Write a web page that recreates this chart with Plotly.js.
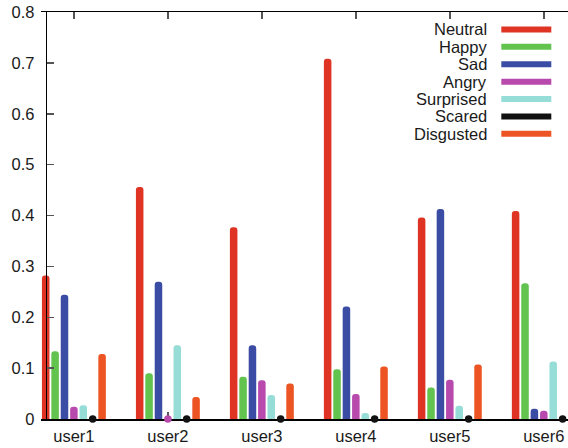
<!DOCTYPE html>
<html>
<head>
<meta charset="utf-8">
<script src="https://cdn.plot.ly/plotly-3.0.1.min.js"></script>
<style>
html, body { margin: 0; padding: 0; overflow: hidden; background: #fff; }
#chart { width: 580px; height: 448px; }
</style>
</head>
<body>
<div id="chart"></div>
<script>
// ---- data ----
const users = ['user1', 'user2', 'user3', 'user4', 'user5', 'user6'];
const emotions = ['Neutral', 'Happy', 'Sad', 'Angry', 'Surprised', 'Scared', 'Disgusted'];
const colors = ['#df3324', '#62c44f', '#3a4ca3', '#b84aad', '#96ddd8', '#111111', '#ec5424'];

const neutral   = [0.282, 0.456, 0.377, 0.708, 0.396, 0.409];
const happy     = [0.133, 0.090, 0.083, 0.098, 0.062, 0.267];
const sad       = [0.244, 0.270, 0.145, 0.221, 0.413, 0.020];
const angry     = [0.024, 0.000, 0.076, 0.049, 0.077, 0.016];
const surprised = [0.027, 0.145, 0.047, 0.012, 0.026, 0.113];
const scared    = [0.000, 0.000, 0.000, 0.000, 0.000, 0.000];
const disgusted = [0.128, 0.043, 0.070, 0.103, 0.107, null];

const series = [neutral, happy, sad, angry, surprised, scared, disgusted];

// ---- layout constants ----
const W = 580, H = 448;
const mL = 40.6, mT = 12, mB = 28.7;
const xRange = [-0.35, 5.3];
const plotW = 531.1;
const mR = W - mL - plotW;
const plotH = H - mT - mB;
const bargap = 0.3;
const fontFam = '"Liberation Sans", Arial, Helvetica, sans-serif';
const xIdx = users.map((u, i) => i);

const traces = [];
const n = series.length;
const slot = (1 - bargap) / n;
series.forEach((vals, k) => {
  traces.push({
    type: 'bar',
    name: emotions[k],
    x: xIdx,
    y: vals,
    marker: { color: colors[k], line: { width: 0 } },
    showlegend: false,
    hoverinfo: 'x+y+name'
  });
});
// zero values are drawn as dots on the baseline
series.forEach((vals, k) => {
  const off = (k - (n - 1) / 2) * slot;
  const xs = [], ys = [];
  vals.forEach((v, i) => { if (v === 0) { xs.push(i + off); ys.push(v); } });
  if (xs.length) {
    traces.push({
      type: 'scatter',
      mode: 'markers',
      x: xs,
      y: ys,
      marker: { color: colors[k], size: 7.5, line: { width: 0 } },
      cliponaxis: false,
      showlegend: false,
      hoverinfo: 'skip'
    });
  }
});

// hand-drawn legend (text on the left, line sample on the right)
const legTextRight = 489, legLineX0 = 501, legLineX1 = 551, legY0 = 29.5, legStep = 17.4;
const px2x = p => (p - mL) / plotW;
const py2y = p => (H - mB - p) / plotH;
const annotations = [], shapes = [];
emotions.forEach((name, k) => {
  const yy = py2y(legY0 + k * legStep);
  annotations.push({
    xref: 'paper', yref: 'paper', x: px2x(legTextRight), y: yy,
    xanchor: 'right', yanchor: 'middle', text: name, showarrow: false,
    font: { family: fontFam, size: 16.5, color: '#1a1a1a' }
  });
  shapes.push({
    type: 'line', xref: 'paper', yref: 'paper',
    x0: px2x(legLineX0), x1: px2x(legLineX1), y0: yy, y1: yy,
    line: { color: colors[k], width: 6 }
  });
});

const axisCommon = {
  showgrid: false, zeroline: false, showline: true,
  linecolor: '#000', linewidth: 1.5,
  ticks: 'inside', ticklen: 7, tickwidth: 1.5, tickcolor: '#555',
  mirror: 'ticks',
  tickfont: { family: fontFam, size: 16.5, color: '#1a1a1a' }
};

const layout = {
  width: W, height: H,
  margin: { l: mL, r: mR, t: mT, b: mB, pad: 0 },
  paper_bgcolor: '#fff', plot_bgcolor: '#fff',
  barmode: 'group', bargap: bargap, bargroupgap: 0.2,
  barcornerradius: '50%',
  showlegend: false,
  xaxis: Object.assign({}, axisCommon, {
    range: xRange, tickmode: 'array', tickvals: xIdx, ticktext: users,
    ticklabelstandoff: 2, layer: 'below traces'
  }),
  yaxis: Object.assign({}, axisCommon, {
    range: [0, 0.8], dtick: 0.1, tick0: 0,
    anchor: 'free', position: (-0.3 - xRange[0]) / (xRange[1] - xRange[0]),
    ticklabelstandoff: 8
  }),
  annotations: annotations,
  shapes: shapes
};

Plotly.newPlot('chart', traces, layout, { displayModeBar: false, staticPlot: true });
</script>
</body>
</html>
